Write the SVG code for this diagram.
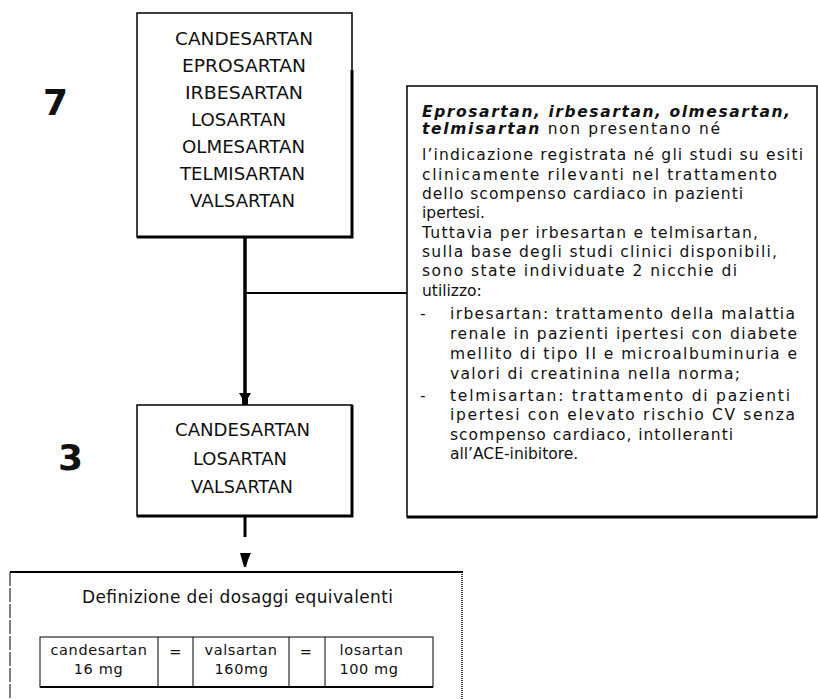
<svg xmlns="http://www.w3.org/2000/svg" width="818" height="699" viewBox="0 0 818 699">
<style>
  text { font-family: "DejaVu Sans", Verdana, sans-serif; fill: #111; }
  .box { fill: #fff; stroke: #000; stroke-width: 1.5; }
  .shadow { stroke: #000; stroke-width: 3; fill: none; }
  .drug { font-size: 17.5px; }
  .num { font-size: 36px; font-weight: bold; }
  .body { font-size: 15.5px; }
  .bi { font-weight: bold; font-style: italic; }
  .cell { font-size: 14.5px; text-anchor: middle; letter-spacing: 0.6px; }
  .conn { stroke: #000; fill: none; }
</style>

<text class="num" x="43" y="115">7</text>
<text class="num" x="58" y="470">3</text>

<g id="node-top">
  <rect class="box" x="137" y="13" width="215" height="224"/>
  <path class="shadow" d="M352,70 V237 H137"/>
  <text class="drug" x="175" y="45" textLength="138" lengthAdjust="spacingAndGlyphs">CANDESARTAN</text>
  <text class="drug" x="182" y="72" textLength="124" lengthAdjust="spacingAndGlyphs">EPROSARTAN</text>
  <text class="drug" x="185" y="99" textLength="118" lengthAdjust="spacingAndGlyphs">IRBESARTAN</text>
  <text class="drug" x="191" y="126" textLength="95" lengthAdjust="spacingAndGlyphs">LOSARTAN</text>
  <text class="drug" x="182" y="153" textLength="123" lengthAdjust="spacingAndGlyphs">OLMESARTAN</text>
  <text class="drug" x="180" y="180" textLength="125" lengthAdjust="spacingAndGlyphs">TELMISARTAN</text>
  <text class="drug" x="190" y="207" textLength="105" lengthAdjust="spacingAndGlyphs">VALSARTAN</text>
</g>

<g id="node-note">
  <rect class="box" x="407" y="86" width="410" height="431"/>
  <path class="shadow" d="M407,517 H817"/>
  <text class="body" x="422" y="117" textLength="368" lengthAdjust="spacing"><tspan class="bi">Eprosartan, irbesartan, olmesartan,</tspan></text>
  <text class="body" x="422" y="134" textLength="298" lengthAdjust="spacing"><tspan class="bi">telmisartan</tspan> non presentano né</text>
  <text class="body" x="422" y="160" textLength="381" lengthAdjust="spacing">l’indicazione registrata né gli studi su esiti</text>
  <text class="body" x="422" y="180" textLength="355" lengthAdjust="spacing">clinicamente rilevanti nel trattamento</text>
  <text class="body" x="422" y="199" textLength="321" lengthAdjust="spacing">dello scompenso cardiaco in pazienti</text>
  <text class="body" x="422" y="218">ipertesi.</text>
  <text class="body" x="422" y="238" textLength="336" lengthAdjust="spacing">Tuttavia per irbesartan e telmisartan,</text>
  <text class="body" x="422" y="257" textLength="355" lengthAdjust="spacing">sulla base degli studi clinici disponibili,</text>
  <text class="body" x="422" y="276" textLength="315" lengthAdjust="spacing">sono state individuate 2 nicchie di</text>
  <text class="body" x="422" y="296">utilizzo:</text>
  <text class="body" x="420" y="319">-</text>
  <text class="body" x="450" y="319" textLength="345" lengthAdjust="spacing">irbesartan: trattamento della malattia</text>
  <text class="body" x="450" y="339" textLength="347" lengthAdjust="spacing">renale in pazienti ipertesi con diabete</text>
  <text class="body" x="450" y="359" textLength="347" lengthAdjust="spacing">mellito di tipo II e microalbuminuria e</text>
  <text class="body" x="450" y="379" textLength="290" lengthAdjust="spacing">valori di creatinina nella norma;</text>
  <text class="body" x="420" y="401">-</text>
  <text class="body" x="450" y="401" textLength="340" lengthAdjust="spacing">telmisartan: trattamento di pazienti</text>
  <text class="body" x="450" y="420" textLength="345" lengthAdjust="spacing">ipertesi con elevato rischio CV senza</text>
  <text class="body" x="450" y="440" textLength="283" lengthAdjust="spacing">scompenso cardiaco, intolleranti</text>
  <text class="body" x="450" y="459">all’ACE-inibitore.</text>
</g>

<g id="node-middle">
  <rect class="box" x="137" y="405" width="215" height="111"/>
  <path class="shadow" d="M352,405 V516 H137"/>
  <text class="drug" x="175" y="436" textLength="135" lengthAdjust="spacingAndGlyphs">CANDESARTAN</text>
  <text class="drug" x="193" y="465" textLength="94" lengthAdjust="spacingAndGlyphs">LOSARTAN</text>
  <text class="drug" x="191" y="493" textLength="102" lengthAdjust="spacingAndGlyphs">VALSARTAN</text>
</g>

<g id="node-dosage">
  <line x1="10" y1="572" x2="463" y2="572" stroke="#000" stroke-width="2"/>
  <line x1="10" y1="572" x2="10" y2="699" stroke="#000" stroke-width="1" stroke-dasharray="14,2"/>
  <line x1="462" y1="572" x2="462" y2="699" stroke="#000" stroke-width="1.5" stroke-dasharray="1,1"/>
  <text x="82" y="603" font-size="17" textLength="311" lengthAdjust="spacing">Definizione dei dosaggi equivalenti</text>
  <rect x="40" y="637" width="393" height="50" fill="#fff" stroke="#000" stroke-width="1"/>
  <line x1="40" y1="687" x2="433" y2="687" stroke="#000" stroke-width="2"/>
  <line x1="158" y1="637" x2="158" y2="687" stroke="#000" stroke-width="1"/>
  <line x1="193" y1="637" x2="193" y2="687" stroke="#000" stroke-width="1"/>
  <line x1="289" y1="637" x2="289" y2="687" stroke="#000" stroke-width="1"/>
  <line x1="325" y1="637" x2="325" y2="687" stroke="#000" stroke-width="1"/>
  <text class="cell" x="99" y="655">candesartan</text>
  <text class="cell" x="98.5" y="674">16 mg</text>
  <text class="cell" x="175.5" y="657">=</text>
  <text class="cell" x="241" y="655">valsartan</text>
  <text class="cell" x="241.5" y="674">160mg</text>
  <text class="cell" x="306" y="657">=</text>
  <text class="cell" x="371.5" y="655">losartan</text>
  <text class="cell" x="369" y="674">100 mg</text>
</g>

<g id="connectors">
  <line class="conn" x1="245" y1="237" x2="245" y2="394" stroke-width="3.5"/>
  <polygon points="239,393 251,393 248,398 248,405 242,405 242,398" fill="#000"/>
  <line class="conn" x1="245" y1="293" x2="407" y2="293" stroke-width="2"/>
  <line class="conn" x1="245" y1="516" x2="245" y2="537" stroke-width="3"/>
  <polygon points="240,553 251,553 248,560 246,567 244,567 242,560" fill="#000"/>
</g>
</svg>
